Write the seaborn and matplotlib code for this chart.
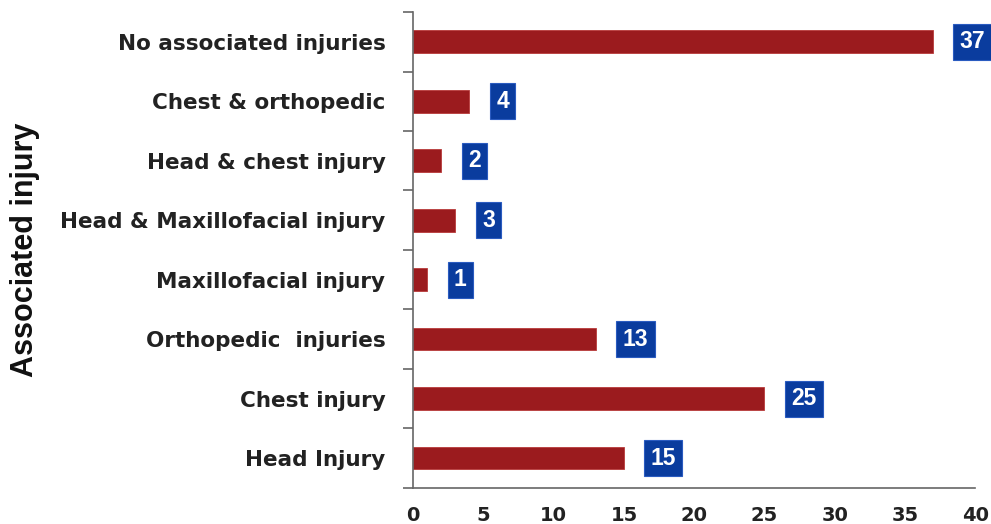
import numpy as np
import pandas as pd
import matplotlib
matplotlib.use("Agg")
import matplotlib.pyplot as plt
import seaborn as sns

# ── Data ──────────────────────────────────────────────────────────────────────
categories = [
    "No associated injuries",
    "Chest & orthopedic",
    "Head & chest injury",
    "Head & Maxillofacial injury",
    "Maxillofacial injury",
    "Orthopedic  injuries",
    "Chest injury",
    "Head Injury",
]
counts = [37, 4, 2, 3, 1, 13, 25, 15]
x_ticks = [0, 5, 10, 15, 20, 25, 30, 35, 40]

BAR_RED = "#9B1B1E"
BOX_BLUE = "#0A3C9E"

df = pd.DataFrame({"injury": categories, "count": counts})

sns.set_style("white")
plt.rcParams["font.family"] = ["DejaVu Sans"]

fig = plt.figure(figsize=(9.91, 5.24), dpi=100)
ax = fig.add_axes([0.417, 0.069, 0.567, 0.908])

sns.barplot(data=df, x="count", y="injury", orient="h", color=BAR_RED,
            width=0.38, saturation=1, edgecolor="#B83A3A", linewidth=0.6, ax=ax)

# value boxes
for i, v in enumerate(counts):
    ax.text(v + 1.9, i, f"{v}", ha="left", va="center", color="white",
            fontsize=16.5, fontweight="bold", family="Liberation Sans",
            clip_on=False,
            bbox=dict(boxstyle="square,pad=0.28", fc=BOX_BLUE, ec="#2A5BC0", lw=0.8))

ax.set_xlim(0, 40)
ax.set_ylim(len(categories) - 0.5, -0.5)
ax.set_xticks(x_ticks)
ax.set_xticklabels([str(t) for t in x_ticks], fontsize=14, fontweight="bold",
                   color="#222222")
ax.tick_params(axis="x", length=5, width=1.2, color="#666666", pad=8, direction="out")

# category labels, ticks sit at category boundaries
ax.set_yticks(range(len(categories)))
ax.set_yticklabels(categories, fontsize=15.5, fontweight="bold", color="#222222")
ax.tick_params(axis="y", which="major", length=0, pad=20)
ax.set_yticks(np.arange(-0.5, len(categories)), minor=True)
ax.tick_params(axis="y", which="minor", length=7, width=1.2, color="#666666",
               direction="out", left=True)

ax.set_xlabel("")
ax.set_ylabel("Associated injury", fontsize=22, fontweight="bold",
              family=["Liberation Sans", "DejaVu Sans"], color="#111111")
ax.yaxis.set_label_coords(-0.664, 0.5)

for side in ["top", "right"]:
    ax.spines[side].set_visible(False)
for side in ["left", "bottom"]:
    ax.spines[side].set_color("#666666")
    ax.spines[side].set_linewidth(1.2)

plt.savefig("out.png", dpi=100)
plt.close()
